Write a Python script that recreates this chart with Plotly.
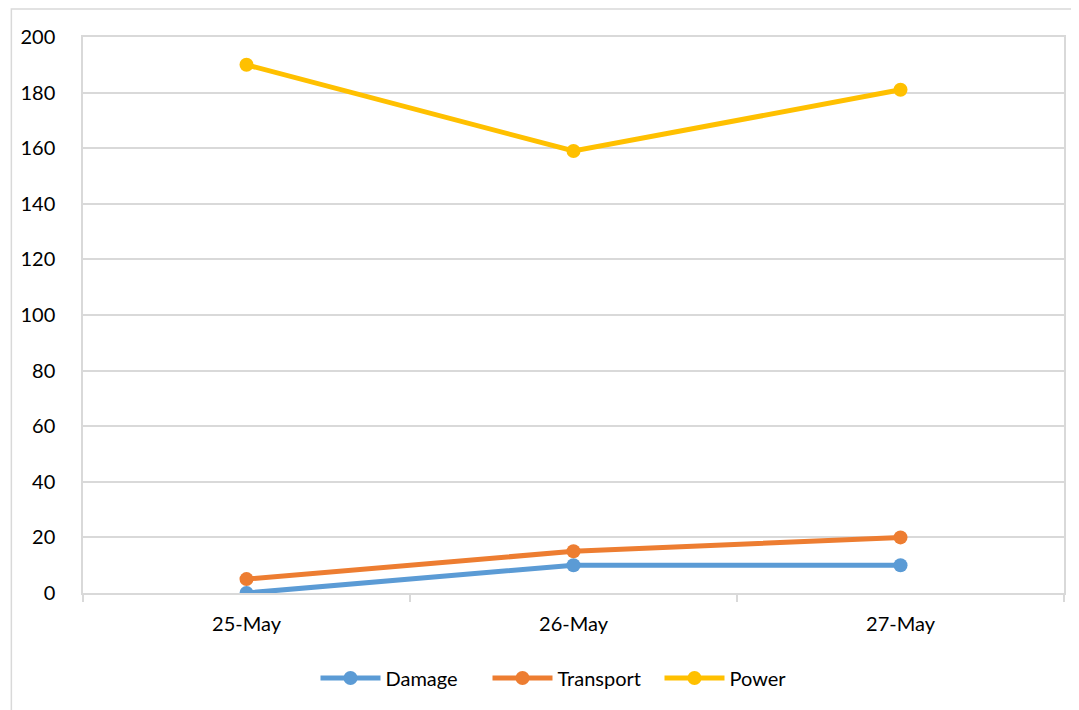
import plotly.graph_objects as go

categories = ["25-May", "26-May", "27-May"]
damage = [0, 10, 10]
transport = [5, 15, 20]
power = [190, 159, 181]
y_ticks = [0, 20, 40, 60, 80, 100, 120, 140, 160, 180, 200]

series = [
    ("Damage", damage, "#5B9BD5"),
    ("Transport", transport, "#ED7D31"),
    ("Power", power, "#FFC000"),
]

fig = go.Figure()
for name, vals, col in series:
    fig.add_trace(go.Scatter(
        x=categories, y=vals, name=name, mode="lines+markers",
        line=dict(color=col, width=5), marker=dict(color=col, size=14),
    ))

grid = "#d9d9d9"
font = "Lato, 'Noto Sans', sans-serif"

W, H = 1071, 702
L, R, T, B = 70, 15, 29, 117
pw = W - L - R
ph = H - T - B

fig.update_layout(
    width=W, height=H,
    margin=dict(l=L, r=R, t=T, b=B),
    paper_bgcolor="white", plot_bgcolor="white",
    font=dict(family=font, size=20, color="#000000"),
    showlegend=True,
    legend=dict(orientation="h", x=0.50, xanchor="center", y=(593 - 678) / ph, yanchor="middle",
                font=dict(size=20), itemwidth=60, entrywidth=97, traceorder="normal"),
    xaxis=dict(
        type="category", range=[-0.5, 2.5], showgrid=False,
        showline=True, linecolor=grid, linewidth=2, mirror=True,
        ticks="outside", tickson="boundaries", ticklen=7, tickcolor=grid, tickwidth=1.5,
        ticklabelstandoff=12,
    ),
    yaxis=dict(
        range=[0, 200], tickvals=y_ticks, showgrid=True, gridcolor=grid, gridwidth=1.5,
        showline=True, linecolor=grid, linewidth=1.5, mirror=True,
        ticks="", zeroline=False, ticklabelstandoff=22,
    ),
    shapes=[dict(type="rect", xref="paper", yref="paper",
                 x0=(7 - 79) / pw, x1=(1090 - 79) / pw,
                 y0=(593 - 720) / ph, y1=(593 - 9) / ph,
                 line=dict(color=grid, width=1.5), layer="below")],
)

fig.write_html("out.html")
